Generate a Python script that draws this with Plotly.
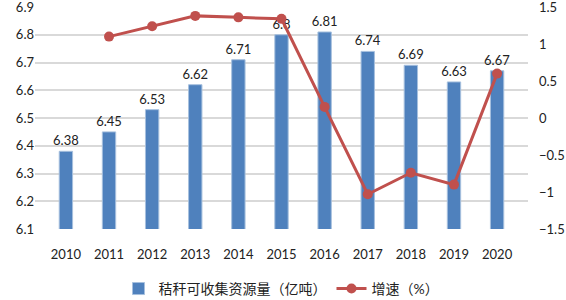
import plotly.graph_objects as go

years = ["2010", "2011", "2012", "2013", "2014", "2015", "2016", "2017", "2018", "2019", "2020"]
resource = [6.38, 6.45, 6.53, 6.62, 6.71, 6.8, 6.81, 6.74, 6.69, 6.63, 6.67]
growth = [None, 1.10, 1.24, 1.38, 1.36, 1.34, 0.15, -1.03, -0.74, -0.90, 0.60]
left_ticks = [6.1, 6.2, 6.3, 6.4, 6.5, 6.6, 6.7, 6.8, 6.9]
right_ticks = [-1.5, -1, -0.5, 0, 0.5, 1, 1.5]

FONT = "Lato, 'Noto Sans CJK SC', sans-serif"

fig = go.Figure()
fig.add_trace(go.Bar(
    x=years, y=resource, name="秸秆可收集资源量（亿吨）",
    marker=dict(color="#4F81BD", line=dict(color="#A7C0DE", width=1)),
    text=[str(v) for v in resource], textposition="outside",
    textfont=dict(size=13, color="#222222", family=FONT),
    constraintext="none",
    cliponaxis=False, yaxis="y",
))
fig.add_trace(go.Scatter(
    x=years, y=growth, name="增速（%）", mode="lines+markers",
    line=dict(color="#C0504D", width=3),
    marker=dict(color="#C0504D", size=10),
    yaxis="y2",
))

fig.update_layout(
    width=566, height=300,
    margin=dict(l=35, r=38, t=7, b=71, autoexpand=False),
    plot_bgcolor="white", paper_bgcolor="white",
    font=dict(family=FONT, size=13, color="#222222"),
    bargap=0.69,
    xaxis=dict(type="category", showgrid=False, showline=False, ticks="",
               tickfont=dict(size=13), ticklabelstandoff=16, automargin=False),
    yaxis=dict(range=[6.1, 6.9], tickvals=left_ticks, tickformat=".1f",
               showgrid=True, gridcolor="#D9D9D9", gridwidth=1.5, automargin=False,
               ticklabeloverflow="allow",
               zeroline=False, showline=False, ticks="", tickfont=dict(size=13)),
    yaxis2=dict(range=[-1.5, 1.5], tickvals=right_ticks, overlaying="y", side="right",
                showgrid=False, zeroline=False, showline=False, ticks="", automargin=False,
                ticklabeloverflow="allow",
                tickfont=dict(size=13), ticklabelstandoff=10),
    legend=dict(orientation="h", x=0.5, xanchor="center", y=-0.27, yanchor="middle",
                font=dict(size=14), itemwidth=30),
    showlegend=True,
)

fig.write_html("out.html", config={"displayModeBar": False},
               post_script="document.body.style.margin='0';")
